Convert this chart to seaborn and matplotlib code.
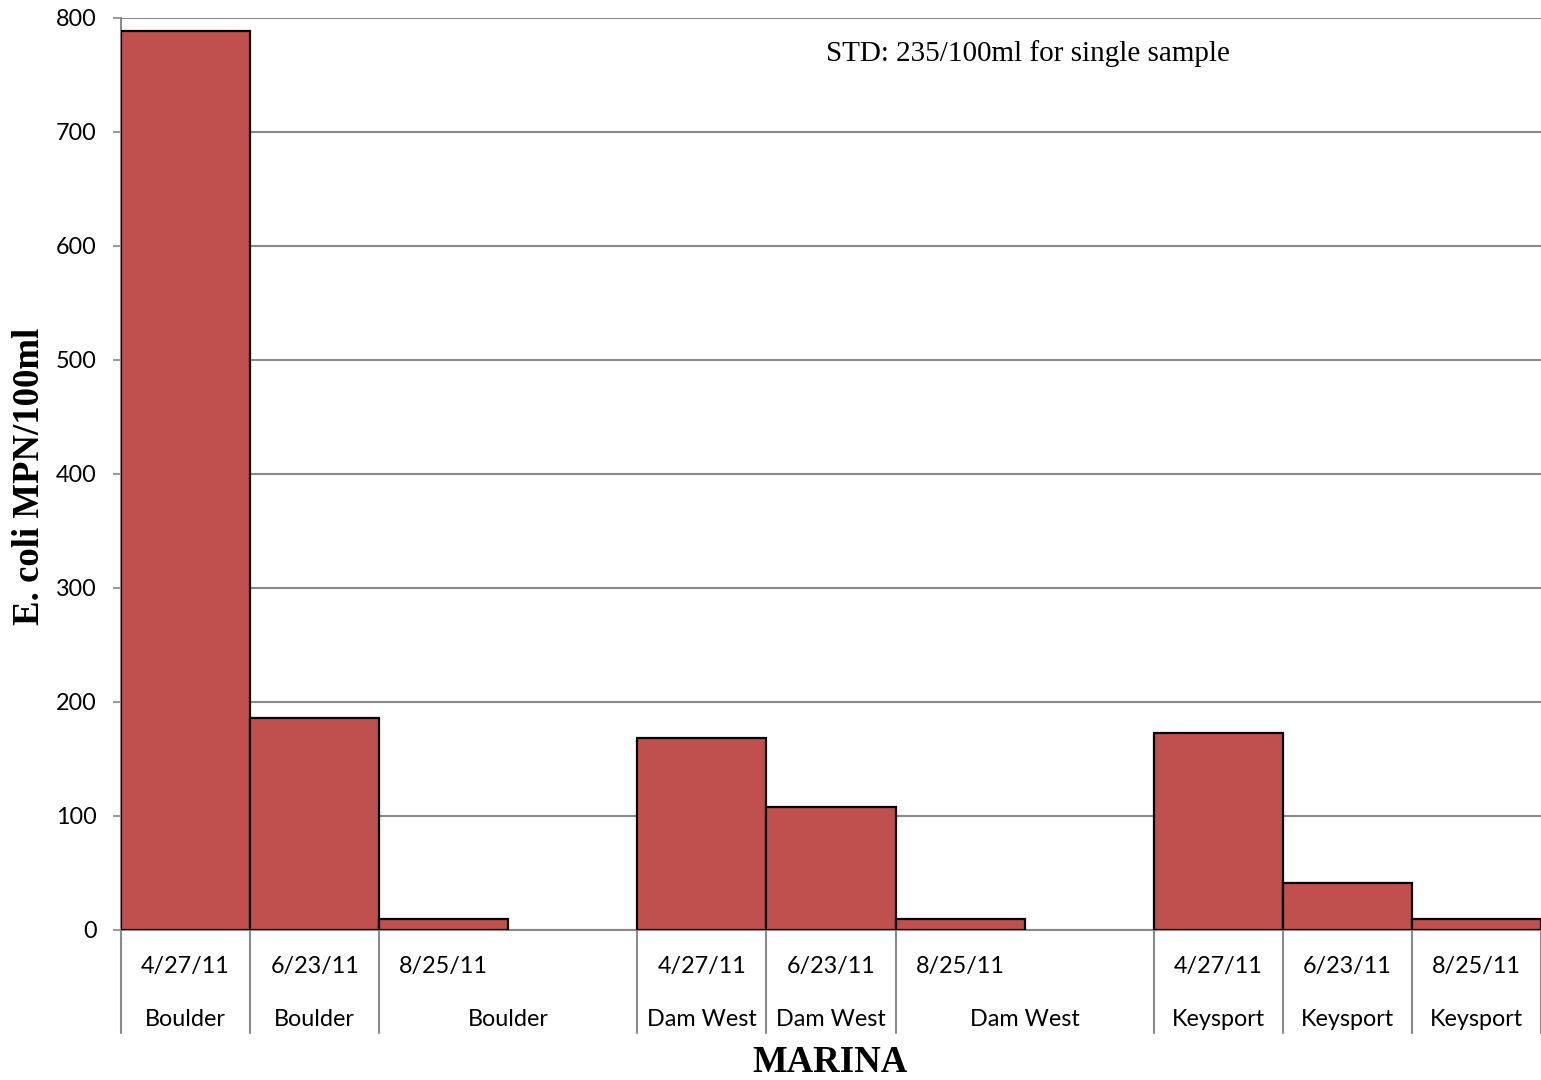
import matplotlib
matplotlib.use("Agg")
import matplotlib.pyplot as plt
import seaborn as sns
import pandas as pd

# ---- data ----
marinas = ["Boulder", "Dam West", "Keysport"]
dates = ["4/27/11", "6/23/11", "8/25/11"]
boulder_vals = [789, 186, 10]
dam_west_vals = [168, 108, 10]
keysport_vals = [173, 41, 10]
y_ticks = [0, 100, 200, 300, 400, 500, 600, 700, 800]
note_text = "STD: 235/100ml for single sample"
y_title = "E. coli MPN/100ml"
x_title = "MARINA"

series = [boulder_vals, dam_west_vals, keysport_vals]

# build slot order: each marina's dates, then an empty slot between marinas
order, rows, slot_info = [], [], []
for mi, (m, vals) in enumerate(zip(marinas, series)):
    for d, v in zip(dates, vals):
        key = f"{m} {d}"
        order.append(key)
        rows.append({"slot": key, "value": v})
        slot_info.append((m, d))
    if mi < len(marinas) - 1:
        key = f"gap{mi}"
        order.append(key)
        slot_info.append((None, None))
df = pd.DataFrame(rows)

sns.set_theme(style="white")
plt.rcParams["font.family"] = ["Lato", "DejaVu Sans"]
plt.rcParams["text.color"] = "black"

fig = plt.figure(figsize=(15.41, 10.80), dpi=100)
ax = fig.add_axes([121 / 1541, 150 / 1080, 1420 / 1541, 912 / 1080])

grid_c = "#898989"
bar_c = "#C0504D"

sns.barplot(data=df, x="slot", y="value", order=order, color=bar_c,
            saturation=1, width=1.0, edgecolor="black", linewidth=1.6,
            ax=ax, zorder=3)

ax.set_ylim(0, 800)
ax.set_xlim(-0.5, len(order) - 0.5)
ax.set_yticks(y_ticks)
ax.set_yticklabels([str(t) for t in y_ticks])
ax.yaxis.grid(True, color=grid_c, linewidth=1.5, zorder=0)
ax.set_axisbelow(True)
ax.tick_params(axis="y", length=5.8, width=1.2, color=grid_c, pad=11.5,
               labelsize=16.8, labelcolor="black", left=True)
ax.set_xticks([])
ax.set_xlabel("")
ax.set_ylabel("")
for s in ["top", "right"]:
    ax.spines[s].set_visible(False)
for s in ["left", "bottom"]:
    ax.spines[s].set_color(grid_c)
    ax.spines[s].set_linewidth(1.5)

# multi-level category labels
trans = ax.get_xaxis_transform()
sep_bottom = -103 / 912
date_y = -37 / 912
marina_y = -89 / 912
n = len(order)
for i, (m, d) in enumerate(slot_info):
    if m is None:
        continue
    ax.text(i, date_y, d, transform=trans, ha="center", va="center",
            fontsize=16.8, color="black")
    # marina label spans the following empty slot if present
    span_gap = (i + 1 < n and slot_info[i + 1][0] is None)
    cx = i + 0.5 if span_gap else i
    ax.text(cx, marina_y, m, transform=trans, ha="center", va="center",
            fontsize=16.8, color="black")
# separators at slot boundaries (not between a last date and its gap)
bounds = [-0.5]
for i in range(n):
    nxt_is_gap = (i + 1 < n and slot_info[i + 1][0] is None)
    if slot_info[i][0] is None or not nxt_is_gap:
        bounds.append(i + 0.5)
for b in bounds:
    ax.plot([b, b], [0, sep_bottom], transform=trans, color=grid_c,
            linewidth=1.5, clip_on=False)

fig.text(30 / 1541, 1 - 476 / 1080, y_title, color="black",
         family=["Liberation Serif"], fontweight="bold", fontsize=26.5,
         rotation=90, ha="center", va="center")
fig.text(830 / 1541, 1 - 1062 / 1080, x_title, family=["Liberation Serif"],
         color="black", fontweight="bold", fontsize=26.5, ha="center", va="center")

ax.text((826 - 121) / 1420, (930 - 54) / 912, note_text, transform=ax.transAxes,
        family=["Liberation Serif"], color="black", fontsize=21,
        ha="left", va="center")

fig.savefig("out.png", dpi=100, facecolor="white")
